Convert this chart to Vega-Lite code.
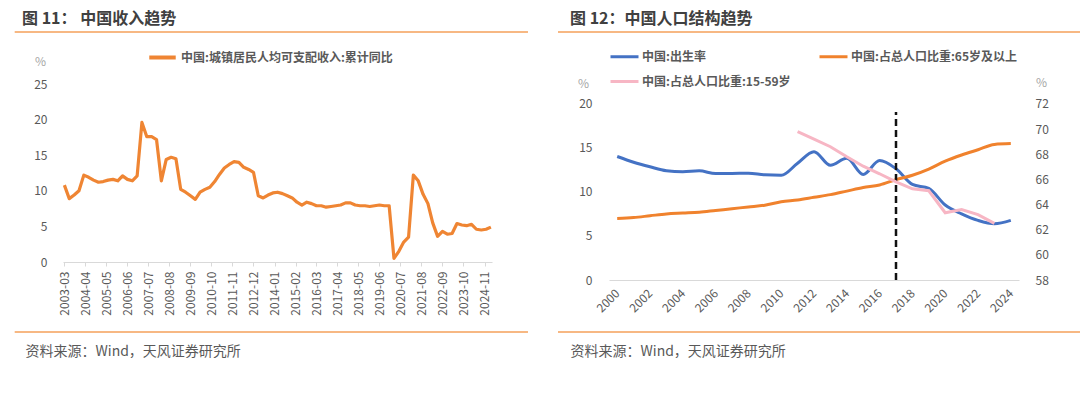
{
  "$schema": "https://vega.github.io/schema/vega-lite/v6.json",
  "padding": {"left": 13, "top": 11, "right": 0, "bottom": 0},
  "spacing": 28,
  "resolve": {"scale": {"color": "independent"}, "legend": {"color": "independent"}},
  "config": {
    "font": "Noto Sans CJK SC",
    "view": {"stroke": null},
    "axis": {"grid": false, "domain": false, "ticks": false, "labelOverlap": false, "labelColor": "#595959", "labelFontSize": 12, "labelFont": "Noto Sans CJK SC"},
    "legend": {"labelLimit": 400}
  },
  "hconcat": [
    {
      "width": 429,
      "height": 178,
      "title": {"text": "图 11：   中国收入趋势", "anchor": "start", "frame": "group", "dx": -41, "fontSize": 16, "fontWeight": "bold", "color": "#404040", "offset": 4},
      "layer": [
        {
          "data": {"values": [
            {"date": "2003-03-01", "value": 10.8}, {"date": "2003-06-01", "value": 8.9}, {"date": "2003-09-01", "value": 9.4}, {"date": "2003-12-01", "value": 10.0},
            {"date": "2004-03-01", "value": 12.2}, {"date": "2004-06-01", "value": 11.9}, {"date": "2004-09-01", "value": 11.5}, {"date": "2004-12-01", "value": 11.2},
            {"date": "2005-03-01", "value": 11.3}, {"date": "2005-06-01", "value": 11.5}, {"date": "2005-09-01", "value": 11.6}, {"date": "2005-12-01", "value": 11.4},
            {"date": "2006-03-01", "value": 12.1}, {"date": "2006-06-01", "value": 11.6}, {"date": "2006-09-01", "value": 11.4}, {"date": "2006-12-01", "value": 12.1},
            {"date": "2007-03-01", "value": 19.6}, {"date": "2007-06-01", "value": 17.6}, {"date": "2007-09-01", "value": 17.6}, {"date": "2007-12-01", "value": 17.2},
            {"date": "2008-03-01", "value": 11.4}, {"date": "2008-06-01", "value": 14.4}, {"date": "2008-09-01", "value": 14.7}, {"date": "2008-12-01", "value": 14.5},
            {"date": "2009-03-01", "value": 10.2}, {"date": "2009-06-01", "value": 9.8}, {"date": "2009-09-01", "value": 9.3}, {"date": "2009-12-01", "value": 8.8},
            {"date": "2010-03-01", "value": 9.8}, {"date": "2010-06-01", "value": 10.2}, {"date": "2010-09-01", "value": 10.5}, {"date": "2010-12-01", "value": 11.3},
            {"date": "2011-03-01", "value": 12.3}, {"date": "2011-06-01", "value": 13.2}, {"date": "2011-09-01", "value": 13.7}, {"date": "2011-12-01", "value": 14.1},
            {"date": "2012-03-01", "value": 14.0}, {"date": "2012-06-01", "value": 13.3}, {"date": "2012-09-01", "value": 13.0}, {"date": "2012-12-01", "value": 12.6},
            {"date": "2013-03-01", "value": 9.3}, {"date": "2013-06-01", "value": 9.0}, {"date": "2013-09-01", "value": 9.4}, {"date": "2013-12-01", "value": 9.7},
            {"date": "2014-03-01", "value": 9.8}, {"date": "2014-06-01", "value": 9.6}, {"date": "2014-09-01", "value": 9.3}, {"date": "2014-12-01", "value": 9.0},
            {"date": "2015-03-01", "value": 8.4}, {"date": "2015-06-01", "value": 8.0}, {"date": "2015-09-01", "value": 8.4}, {"date": "2015-12-01", "value": 8.2},
            {"date": "2016-03-01", "value": 7.9}, {"date": "2016-06-01", "value": 7.9}, {"date": "2016-09-01", "value": 7.7}, {"date": "2016-12-01", "value": 7.8},
            {"date": "2017-03-01", "value": 7.9}, {"date": "2017-06-01", "value": 8.0}, {"date": "2017-09-01", "value": 8.3}, {"date": "2017-12-01", "value": 8.3},
            {"date": "2018-03-01", "value": 8.0}, {"date": "2018-06-01", "value": 7.9}, {"date": "2018-09-01", "value": 7.9}, {"date": "2018-12-01", "value": 7.8},
            {"date": "2019-03-01", "value": 7.9}, {"date": "2019-06-01", "value": 8.0}, {"date": "2019-09-01", "value": 7.9}, {"date": "2019-12-01", "value": 7.9},
            {"date": "2020-03-01", "value": 0.5}, {"date": "2020-06-01", "value": 1.5}, {"date": "2020-09-01", "value": 2.8}, {"date": "2020-12-01", "value": 3.5},
            {"date": "2021-03-01", "value": 12.2}, {"date": "2021-06-01", "value": 11.4}, {"date": "2021-09-01", "value": 9.5}, {"date": "2021-12-01", "value": 8.2},
            {"date": "2022-03-01", "value": 5.5}, {"date": "2022-06-01", "value": 3.6}, {"date": "2022-09-01", "value": 4.3}, {"date": "2022-12-01", "value": 3.9},
            {"date": "2023-03-01", "value": 4.0}, {"date": "2023-06-01", "value": 5.4}, {"date": "2023-09-01", "value": 5.2}, {"date": "2023-12-01", "value": 5.1},
            {"date": "2024-03-01", "value": 5.3}, {"date": "2024-06-01", "value": 4.6}, {"date": "2024-09-01", "value": 4.5}, {"date": "2024-12-01", "value": 4.6},
            {"date": "2025-03-01", "value": 4.9}
          ]},
          "mark": {"type": "line", "strokeWidth": 3.2, "strokeJoin": "round"},
          "encoding": {
            "x": {
              "field": "date", "type": "temporal",
              "scale": {"type": "utc", "domain": [{"year": 2003, "month": 2, "date": 3, "utc": true}, {"year": 2025, "month": 3, "date": 22, "utc": true}]},
              "axis": {
                "values": [
                  {"year": 2003, "month": 3, "date": 1, "utc": true}, {"year": 2004, "month": 4, "date": 1, "utc": true}, {"year": 2005, "month": 5, "date": 1, "utc": true},
                  {"year": 2006, "month": 6, "date": 1, "utc": true}, {"year": 2007, "month": 7, "date": 1, "utc": true}, {"year": 2008, "month": 8, "date": 1, "utc": true},
                  {"year": 2009, "month": 9, "date": 1, "utc": true}, {"year": 2010, "month": 10, "date": 1, "utc": true}, {"year": 2011, "month": 11, "date": 1, "utc": true},
                  {"year": 2012, "month": 12, "date": 1, "utc": true}, {"year": 2014, "month": 1, "date": 1, "utc": true}, {"year": 2015, "month": 2, "date": 1, "utc": true},
                  {"year": 2016, "month": 3, "date": 1, "utc": true}, {"year": 2017, "month": 4, "date": 1, "utc": true}, {"year": 2018, "month": 5, "date": 1, "utc": true},
                  {"year": 2019, "month": 6, "date": 1, "utc": true}, {"year": 2020, "month": 7, "date": 1, "utc": true}, {"year": 2021, "month": 8, "date": 1, "utc": true},
                  {"year": 2022, "month": 9, "date": 1, "utc": true}, {"year": 2023, "month": 10, "date": 1, "utc": true}, {"year": 2024, "month": 11, "date": 1, "utc": true}
                ],
                "tickCount": 100,
                "format": "%Y-%m", "labelAngle": -90, "labelAlign": "right", "labelBaseline": "middle", "labelPadding": 5, "labelOverlap": false,
                "domain": true, "domainColor": "#D9D9D9", "ticks": true, "tickSize": 4, "tickColor": "#D9D9D9",
                "title": "资料来源：Wind，天风证券研究所", "titleX": -38, "titleY": 89, "titleAlign": "left", "titleBaseline": "middle", "titleAnchor": "start",
                "titleFontSize": 14, "titleFontWeight": "normal", "titleColor": "#595959"
              }
            },
            "y": {
              "field": "value", "type": "quantitative",
              "scale": {"domain": [0, 25], "nice": false},
              "axis": {"values": [0, 5, 10, 15, 20, 25], "tickCount": 100, "format": "d", "labelOverlap": false, "labelPadding": 16, "title": "%", "titleAngle": 0, "titleX": -23, "titleY": -23, "titleAlign": "center", "titleBaseline": "middle", "titleColor": "#A6A6A6", "titleFontWeight": "normal", "titleFontSize": 12}
            },
            "color": {
              "datum": "中国:城镇居民人均可支配收入:累计同比",
              "type": "nominal",
              "scale": {"range": ["#EF8533"]},
              "legend": {"orient": "none", "legendX": 84, "legendY": -42, "title": null, "symbolType": "stroke", "symbolSize": 700, "symbolStrokeWidth": 4, "labelFontSize": 12, "labelFontWeight": "bold", "labelColor": "#595959", "labelOffset": 3, "padding": 0}
            }
          }
        },
        {
          "data": {"values": [{}]},
          "mark": {"type": "rule", "color": "#F5A05A", "strokeWidth": 1.5, "clip": false},
          "encoding": {
            "x": {"datum": {"year": 2000, "month": 8, "date": 7, "utc": true}, "type": "temporal"},
            "x2": {"datum": {"year": 2027, "month": 1, "date": 29, "utc": true}},
            "y": {"datum": 32.3, "type": "quantitative"}
          }
        },
        {
          "data": {"values": [{}]},
          "mark": {"type": "rule", "color": "#F5A05A", "strokeWidth": 1.5, "clip": false},
          "encoding": {
            "x": {"datum": {"year": 2000, "month": 8, "date": 7, "utc": true}, "type": "temporal"},
            "x2": {"datum": {"year": 2027, "month": 1, "date": 29, "utc": true}},
            "y": {"datum": -9.83, "type": "quantitative"}
          }
        }
      ]
    },
    {
      "width": 410,
      "height": 196,
      "title": {"text": "图 12：中国人口结构趋势", "anchor": "start", "frame": "group", "dx": -39, "fontSize": 16, "fontWeight": "bold", "color": "#404040", "offset": 4},
      "resolve": {"scale": {"y": "independent"}},
      "layer": [
        {
          "layer": [
            {
              "data": {"values": [
                {"year": 2000, "series": "中国:出生率", "value": 14.03}, {"year": 2001, "series": "中国:出生率", "value": 13.38}, {"year": 2002, "series": "中国:出生率", "value": 12.86},
                {"year": 2003, "series": "中国:出生率", "value": 12.41}, {"year": 2004, "series": "中国:出生率", "value": 12.29}, {"year": 2005, "series": "中国:出生率", "value": 12.40},
                {"year": 2006, "series": "中国:出生率", "value": 12.09}, {"year": 2007, "series": "中国:出生率", "value": 12.10}, {"year": 2008, "series": "中国:出生率", "value": 12.14},
                {"year": 2009, "series": "中国:出生率", "value": 11.95}, {"year": 2010, "series": "中国:出生率", "value": 11.90}, {"year": 2011, "series": "中国:出生率", "value": 13.27},
                {"year": 2012, "series": "中国:出生率", "value": 14.57}, {"year": 2013, "series": "中国:出生率", "value": 13.03}, {"year": 2014, "series": "中国:出生率", "value": 13.83},
                {"year": 2015, "series": "中国:出生率", "value": 11.99}, {"year": 2016, "series": "中国:出生率", "value": 13.57}, {"year": 2017, "series": "中国:出生率", "value": 12.64},
                {"year": 2018, "series": "中国:出生率", "value": 10.86}, {"year": 2019, "series": "中国:出生率", "value": 10.41}, {"year": 2020, "series": "中国:出生率", "value": 8.52},
                {"year": 2021, "series": "中国:出生率", "value": 7.52}, {"year": 2022, "series": "中国:出生率", "value": 6.77}, {"year": 2023, "series": "中国:出生率", "value": 6.39},
                {"year": 2024, "series": "中国:出生率", "value": 6.77},
                {"year": 2000, "series": "中国:占总人口比重:65岁及以上", "value": 7.0}, {"year": 2001, "series": "中国:占总人口比重:65岁及以上", "value": 7.1},
                {"year": 2002, "series": "中国:占总人口比重:65岁及以上", "value": 7.3}, {"year": 2003, "series": "中国:占总人口比重:65岁及以上", "value": 7.5},
                {"year": 2004, "series": "中国:占总人口比重:65岁及以上", "value": 7.6}, {"year": 2005, "series": "中国:占总人口比重:65岁及以上", "value": 7.7},
                {"year": 2006, "series": "中国:占总人口比重:65岁及以上", "value": 7.9}, {"year": 2007, "series": "中国:占总人口比重:65岁及以上", "value": 8.1},
                {"year": 2008, "series": "中国:占总人口比重:65岁及以上", "value": 8.3}, {"year": 2009, "series": "中国:占总人口比重:65岁及以上", "value": 8.5},
                {"year": 2010, "series": "中国:占总人口比重:65岁及以上", "value": 8.9}, {"year": 2011, "series": "中国:占总人口比重:65岁及以上", "value": 9.1},
                {"year": 2012, "series": "中国:占总人口比重:65岁及以上", "value": 9.4}, {"year": 2013, "series": "中国:占总人口比重:65岁及以上", "value": 9.7},
                {"year": 2014, "series": "中国:占总人口比重:65岁及以上", "value": 10.1}, {"year": 2015, "series": "中国:占总人口比重:65岁及以上", "value": 10.5},
                {"year": 2016, "series": "中国:占总人口比重:65岁及以上", "value": 10.8}, {"year": 2017, "series": "中国:占总人口比重:65岁及以上", "value": 11.4},
                {"year": 2018, "series": "中国:占总人口比重:65岁及以上", "value": 11.9}, {"year": 2019, "series": "中国:占总人口比重:65岁及以上", "value": 12.6},
                {"year": 2020, "series": "中国:占总人口比重:65岁及以上", "value": 13.5}, {"year": 2021, "series": "中国:占总人口比重:65岁及以上", "value": 14.2},
                {"year": 2022, "series": "中国:占总人口比重:65岁及以上", "value": 14.8}, {"year": 2023, "series": "中国:占总人口比重:65岁及以上", "value": 15.4},
                {"year": 2024, "series": "中国:占总人口比重:65岁及以上", "value": 15.5}
              ]},
              "mark": {"type": "line", "interpolate": "monotone", "strokeWidth": 3},
              "encoding": {
                "x": {
                  "field": "year", "type": "quantitative",
                  "scale": {"domain": [1999.5, 2024.5], "nice": false, "zero": false},
                  "axis": {
                    "values": [2000, 2002, 2004, 2006, 2008, 2010, 2012, 2014, 2016, 2018, 2020, 2022, 2024],
                    "tickCount": 100,
                    "format": "d", "labelAngle": -45, "labelAlign": "right", "labelBaseline": "middle", "labelPadding": 11, "labelOverlap": false,
                    "domain": true, "domainColor": "#D9D9D9",
                    "title": "资料来源：Wind，天风证券研究所", "titleX": -39, "titleY": 71, "titleAlign": "left", "titleBaseline": "middle", "titleAnchor": "start",
                    "titleFontSize": 14, "titleFontWeight": "normal", "titleColor": "#595959"
                  }
                },
                "y": {
                  "field": "value", "type": "quantitative",
                  "scale": {"domain": [0, 22.27], "nice": false},
                  "axis": {"values": [0, 5, 10, 15, 20], "tickCount": 100, "format": "d", "labelOverlap": false, "labelPadding": 17, "title": "%", "titleAngle": 0, "titleX": -26, "titleY": -1, "titleAlign": "center", "titleBaseline": "middle", "titleColor": "#A6A6A6", "titleFontWeight": "normal", "titleFontSize": 12}
                },
                "color": {
                  "field": "series", "type": "nominal",
                  "scale": {"domain": ["中国:出生率", "中国:占总人口比重:65岁及以上", "中国:占总人口比重:15-59岁"], "range": ["#4472C4", "#F0822D", "#F7B6C4"]},
                  "legend": {"orient": "none", "direction": "horizontal", "legendX": 0, "legendY": -43, "title": null, "values": ["中国:出生率", "中国:占总人口比重:65岁及以上", "中国:占总人口比重:15-59岁"], "columns": 2, "columnPadding": 22, "rowPadding": 3, "symbolType": "stroke", "symbolSize": 784, "symbolStrokeWidth": 3, "labelFontSize": 12, "labelFontWeight": "bold", "labelColor": "#595959", "labelOffset": 2, "labelLimit": 400, "padding": 0}
                }
              }
            },
            {
              "data": {"values": [{}]},
              "mark": {"type": "rule", "color": "#111111", "strokeWidth": 2.5, "strokeDash": [7, 4]},
              "encoding": {
                "x": {"datum": 2017, "type": "quantitative"},
                "y": {"datum": 0, "type": "quantitative"},
                "y2": {"datum": 19.1}
              }
            },
            {
              "data": {"values": [{}]},
              "mark": {"type": "rule", "color": "#F5A05A", "strokeWidth": 1.5, "clip": false},
              "encoding": {
                "x": {"datum": 1996.39, "type": "quantitative"},
                "x2": {"datum": 2028.34},
                "y": {"datum": 28.18, "type": "quantitative"}
              }
            },
            {
              "data": {"values": [{}]},
              "mark": {"type": "rule", "color": "#F5A05A", "strokeWidth": 1.5, "clip": false},
              "encoding": {
                "x": {"datum": 1996.39, "type": "quantitative"},
                "x2": {"datum": 2028.34},
                "y": {"datum": -5.91, "type": "quantitative"}
              }
            }
          ]
        },
        {
          "data": {"values": [
            {"year": 2011, "series": "中国:占总人口比重:15-59岁", "value": 69.8}, {"year": 2012, "series": "中国:占总人口比重:15-59岁", "value": 69.2},
            {"year": 2013, "series": "中国:占总人口比重:15-59岁", "value": 68.6}, {"year": 2014, "series": "中国:占总人口比重:15-59岁", "value": 67.8},
            {"year": 2015, "series": "中国:占总人口比重:15-59岁", "value": 67.05}, {"year": 2016, "series": "中国:占总人口比重:15-59岁", "value": 66.45},
            {"year": 2017, "series": "中国:占总人口比重:15-59岁", "value": 65.8}, {"year": 2018, "series": "中国:占总人口比重:15-59岁", "value": 65.25},
            {"year": 2019, "series": "中国:占总人口比重:15-59岁", "value": 65.1}, {"year": 2020, "series": "中国:占总人口比重:15-59岁", "value": 63.35},
            {"year": 2021, "series": "中国:占总人口比重:15-59岁", "value": 63.6}, {"year": 2022, "series": "中国:占总人口比重:15-59岁", "value": 63.2},
            {"year": 2023, "series": "中国:占总人口比重:15-59岁", "value": 62.5}
          ]},
          "mark": {"type": "line", "strokeWidth": 3},
          "encoding": {
            "x": {"field": "year", "type": "quantitative"},
            "y": {
              "field": "value", "type": "quantitative",
              "scale": {"domain": [58, 73.59], "nice": false, "zero": false},
              "axis": {"orient": "right", "values": [58, 60, 62, 64, 66, 68, 70, 72], "tickCount": 100, "format": "d", "labelOverlap": false, "labelPadding": 16, "title": "%", "titleAngle": 0, "titleX": 22, "titleY": -2, "titleAlign": "center", "titleBaseline": "middle", "titleColor": "#A6A6A6", "titleFontWeight": "normal", "titleFontSize": 12}
            },
            "color": {
              "field": "series", "type": "nominal",
              "scale": {"domain": ["中国:出生率", "中国:占总人口比重:65岁及以上", "中国:占总人口比重:15-59岁"], "range": ["#4472C4", "#F0822D", "#F7B6C4"]}
            }
          }
        }
      ]
    }
  ]
}
